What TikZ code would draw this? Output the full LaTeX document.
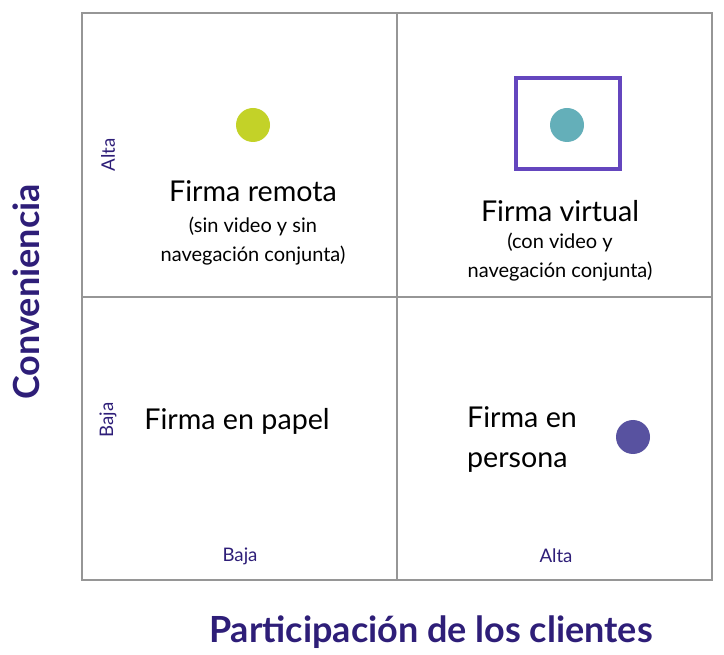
\documentclass[tikz,border=0pt]{standalone}
\usepackage{fontspec}
\setmainfont{Lato}
\definecolor{axisc}{RGB}{46,30,120}
\definecolor{gridc}{RGB}{150,150,150}
\definecolor{dotg}{RGB}{195,210,40}
\definecolor{dott}{RGB}{100,175,185}
\definecolor{dotp}{RGB}{88,82,160}
\definecolor{boxc}{RGB}{100,70,190}
\begin{document}
\begin{tikzpicture}[x=0.75pt,y=-0.75pt,
  big/.style={font=\fontsize{21.5}{30}\selectfont,align=center},
  small/.style={font=\fontsize{15}{22}\selectfont,align=center},
  ax/.style={text=axisc,font=\fontsize{14}{16}\selectfont},
  ttl/.style={text=axisc,font=\fontsize{27}{30}\selectfont\bfseries},
  dot/.style={circle,minimum size=25.5pt,inner sep=0pt}]
\useasboundingbox (0,0) rectangle (724,655);
\draw[gridc,line width=1.2pt] (82,13) rectangle (712,580) (397,13)--(397,580) (82,297)--(712,297);
\node[dot,fill=dotg] (g) at (253,125) {};
\node[dot,fill=dott] (t) at (567,125) {};
\node[dot,fill=dotp] (p) at (633,437) {};
\node[draw=boxc,line width=3pt,minimum width=78pt,minimum height=68pt] (sq) at (567.5,123.5) {};
\node[big] (fr) at (253,191) {Firma remota};
\node[small] (frs) at (253,241) {(sin video y sin\\navegación conjunta)};
\node[big] (fv) at (560,211) {Firma virtual};
\node[small] (fvs) at (560,257) {(con video y\\navegación conjunta)};
\node[big] (fp) at (237,421) {Firma en papel};
\node[big,align=left] (fe) at (522,440) {Firma en\\persona};
\node[ax,rotate=90] (a1) at (108,155) {Alta};
\node[ax,rotate=90] (b1) at (108,420) {Baja};
\node[ax] (b2) at (240,556) {Baja};
\node[ax] (a2) at (556,556) {Alta};
\node[ttl,rotate=90] (yc) at (26,292) {Conveniencia};
\node[ttl] (xc) at (431,632) {Participación de los clientes};
\end{tikzpicture}
\end{document}
